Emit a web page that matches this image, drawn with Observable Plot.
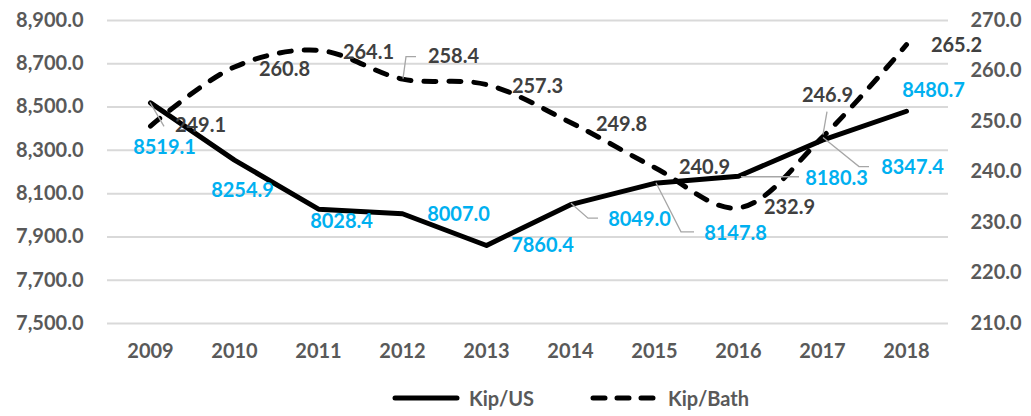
<!DOCTYPE html>
<html><head><meta charset="utf-8">
<script src="https://cdn.jsdelivr.net/npm/d3@7"></script>
<script src="https://cdn.jsdelivr.net/npm/@observablehq/plot@0.6"></script>
<style>
body{margin:0;background:#fff;font-family:Lato,"Open Sans",sans-serif;}
#legend{position:relative;width:1031px;height:36px;font-weight:bold;font-size:20px;color:#595959;}
#legend .it{position:absolute;top:0;height:36px;display:flex;align-items:center;}
</style></head>
<body><div id="chart"></div><div id="legend"></div>
<script>
// ---- data ----
const years = ["2009","2010","2011","2012","2013","2014","2015","2016","2017","2018"];
const kipUS = [8519.1, 8254.9, 8028.4, 8007.0, 7860.4, 8049.0, 8147.8, 8180.3, 8347.4, 8480.7];
const kipBath = [249.1, 260.8, 264.1, 258.4, 257.3, 249.8, 240.9, 232.9, 246.9, 265.2];
const leftTicks = [7500, 7700, 7900, 8100, 8300, 8500, 8700, 8900];
const rightTicks = [210, 220, 230, 240, 250, 260, 270];
const seriesNames = ["Kip/US", "Kip/Bath"];

// ---- label layout (pixel offsets from the data point) ----
const usLabelOffsets = [[14,45],[8,30],[23,12],[56,1],[56,0],[69,15],[81,50],[98,2],[90,27],[27,-21]];
const bathLabelOffsets = [[50,0],[50,3],[50,2],[51,-22],[51,2],[51,2],[50,0],[51,0],[5,-42],[50,1]];
const usLeaders = {0:[[0,0],[14,24]], 5:[[1,-1],[18,14],[28,14]], 6:[[2,0],[27,49],[40,49]], 7:[[3,1],[61,1]], 8:[[1,-2],[37,27],[47,27]]};
const bathLeaders = {3:[[1,0],[4,-22],[14,-22]], 8:[[1,-2],[5,-25]]};

// right axis mapping onto left scale
const L0 = 7500, L1 = 8900, R0 = 210, R1 = 270;
const toLeft = v => L0 + (v - R0) / (R1 - R0) * (L1 - L0);
const fromLeft = v => R0 + (v - L0) / (L1 - L0) * (R1 - R0);

const rows = years.map((y, i) => ({year: y, us: kipUS[i], bath: toLeft(kipBath[i]), bathRaw: kipBath[i]}));
const fmt = d3.format(",.1f");

const labelMarks = [];
rows.forEach((r, i) => {
  labelMarks.push(Plot.text([r], {x: "year", y: "us", text: d => d.us.toFixed(1), dx: usLabelOffsets[i][0], dy: usLabelOffsets[i][1], fill: "#00b0f0", fontWeight: "bold", fontSize: 20}));
  labelMarks.push(Plot.text([r], {x: "year", y: "bath", text: d => d.bathRaw.toFixed(1), dx: bathLabelOffsets[i][0], dy: bathLabelOffsets[i][1], fill: "#404040", fontWeight: "bold", fontSize: 20}));
});

const chart = Plot.plot({
  width: 1031, height: 380,
  marginLeft: 107, marginRight: 83, marginTop: 20, marginBottom: 57,
  style: {fontFamily: "Lato, 'Open Sans', sans-serif", fontSize: "20px", fontWeight: "bold", color: "#595959", background: "#fff"},
  x: {type: "point", domain: years, padding: 0.5},
  y: {domain: [L0, L1]},
  marks: [
    Plot.ruleY(leftTicks, {stroke: "#d9d9d9", strokeWidth: 2}),
    Plot.axisY(leftTicks, {anchor: "left", tickSize: 0, tickPadding: 24, tickFormat: fmt, label: null}),
    Plot.axisY(rightTicks.map(toLeft), {anchor: "right", tickSize: 0, tickPadding: 22, tickFormat: d => fromLeft(d).toFixed(1), label: null}),
    Plot.axisX({tickSize: 0, tickPadding: 20, label: null}),
    Plot.line(rows, {x: "year", y: "bath", stroke: "#000", strokeWidth: 5, strokeDasharray: "12,13", strokeLinecap: "round", curve: "catmull-rom"}),
    Plot.line(rows, {x: "year", y: "us", stroke: "#000", strokeWidth: 5, strokeLinejoin: "round", strokeLinecap: "round"}),
    ...labelMarks
  ]
});
document.getElementById("chart").appendChild(chart);

// leader lines, positioned with the chart's own scales
const sx = chart.scale("x"), sy = chart.scale("y");
const svg = d3.select(chart);
function drawLeaders(leaders, key) {
  Object.entries(leaders).forEach(([i, pts]) => {
    const r = rows[+i];
    const px = sx.apply(r.year), py = sy.apply(r[key]);
    svg.append("path")
      .attr("d", d3.line()(pts.map(([a, b]) => [px + a, py + b])))
      .attr("fill", "none").attr("stroke", "#a6a6a6").attr("stroke-width", 1.3);
  });
}
drawLeaders(usLeaders, "us");
drawLeaders(bathLeaders, "bath");

// legend
const lg = document.getElementById("legend");
lg.innerHTML =
  `<div class="it" style="left:392px"><svg width="68" height="10"><line x1="3" y1="5" x2="65" y2="5" stroke="#000" stroke-width="5" stroke-linecap="round"/></svg><span style="margin-left:9px">${seriesNames[0]}</span></div>` +
  `<div class="it" style="left:590px"><svg width="66" height="10"><line x1="3" y1="5" x2="63" y2="5" stroke="#000" stroke-width="5" stroke-linecap="round" stroke-dasharray="12,12"/></svg><span style="margin-left:12px">${seriesNames[1]}</span></div>`;
</script>
</body></html>
